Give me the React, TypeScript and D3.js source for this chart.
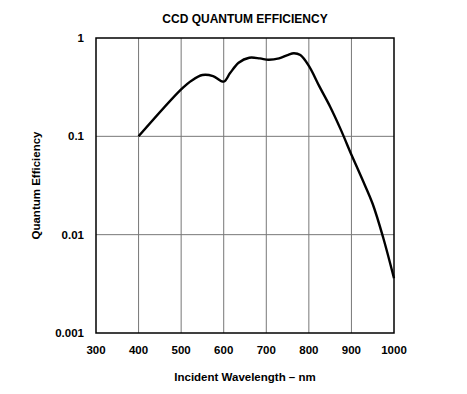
import * as d3 from "d3";

const wavelengths = [400, 500, 525, 550, 575, 600, 615, 635, 660, 685, 705, 730, 750, 765, 780, 800, 825, 850, 875, 900, 925, 950, 975, 1000];
const efficiency = [0.1, 0.3, 0.37, 0.42, 0.41, 0.36, 0.44, 0.56, 0.63, 0.62, 0.6, 0.62, 0.67, 0.7, 0.67, 0.52, 0.32, 0.2, 0.117, 0.065, 0.037, 0.0205, 0.0092, 0.0036];
const xTicks = [300, 400, 500, 600, 700, 800, 900, 1000];
const yTicks = [0.001, 0.01, 0.1, 1];
const yTickLabels = ["0.001", "0.01", "0.1", "1"];

const WIDTH = 467;
const HEIGHT = 394;
const LEFT = 96;
const RIGHT = 394;
const TOP = 38;
const BOTTOM = 333;
const FONT = "Liberation Sans, Arial, Helvetica, sans-serif";

const App = () => {
  const x = d3.scaleLinear().domain([300, 1000]).range([LEFT, RIGHT]);
  const y = d3.scaleLog().domain([0.001, 1]).range([BOTTOM, TOP]);

  const points = wavelengths.map((w, i) => [w, efficiency[i]] as [number, number]);
  const line = d3
    .line<[number, number]>()
    .x((d) => x(d[0]))
    .y((d) => y(d[1]))
    .curve(d3.curveCatmullRom.alpha(0.5));

  return (
    <svg
      width={WIDTH}
      height={HEIGHT}
      style={{ position: "absolute", left: 0, top: 0, background: "#fff" }}
      fontFamily={FONT}
    >
      <text x={245} y={23} textAnchor="middle" fontSize={12} fontWeight="bold" fill="#000">
        CCD QUANTUM EFFICIENCY
      </text>

      {/* grid */}
      {xTicks.slice(1, -1).map((t) => (
        <line key={"gx" + t} x1={x(t)} x2={x(t)} y1={TOP} y2={BOTTOM} stroke="#777" strokeWidth={1} />
      ))}
      {yTicks.slice(1, -1).map((t) => (
        <line key={"gy" + t} x1={LEFT} x2={RIGHT} y1={y(t)} y2={y(t)} stroke="#777" strokeWidth={1} />
      ))}

      <path d={line(points) as string} fill="none" stroke="#000" strokeWidth={2.4} strokeLinejoin="round" />

      <rect x={LEFT} y={TOP} width={RIGHT - LEFT} height={BOTTOM - TOP} fill="none" stroke="#000" strokeWidth={1.5} />

      {/* tick labels */}
      {xTicks.map((t) => (
        <text key={"tx" + t} x={x(t)} y={354} textAnchor="middle" fontSize={11.5} fontWeight="bold" fill="#000">
          {t}
        </text>
      ))}
      {yTicks.map((t, i) => (
        <text
          key={"ty" + t}
          x={84}
          y={y(t)}
          dy="0.35em"
          textAnchor="end"
          fontSize={11.5}
          fontWeight="bold"
          fill="#000"
        >
          {yTickLabels[i]}
        </text>
      ))}

      <text x={245} y={381} textAnchor="middle" fontSize={11.5} fontWeight="bold" fill="#000">
        Incident Wavelength – nm
      </text>
      <text
        transform={`translate(40, ${(TOP + BOTTOM) / 2}) rotate(-90)`}
        textAnchor="middle"
        fontSize={11.5}
        fontWeight="bold"
        fill="#000"
      >
        Quantum Efficiency
      </text>
    </svg>
  );
};

export default App;
